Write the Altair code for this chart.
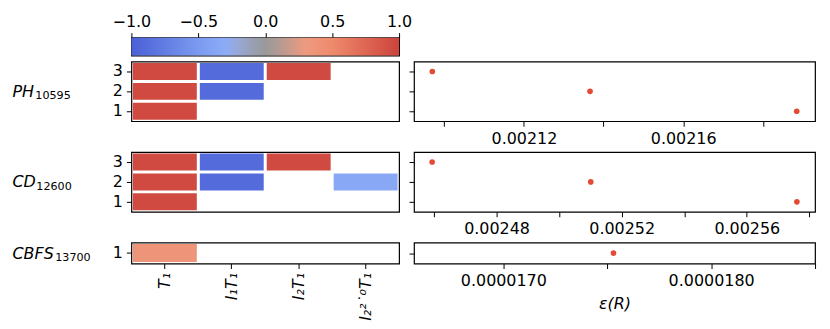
import altair as alt
import pandas as pd

# ---------------- data ----------------
method_names = ["PH", "CD", "CBFS"]
method_subs = ["10595", "12600", "13700"]
terms = ["T₁", "I₁T₁", "I₂T₁", "I₂²˙⁰T₁"]

ph_cell_row = [3, 3, 3, 2, 2, 1]
ph_cell_term = ["T₁", "I₁T₁", "I₂T₁", "T₁", "I₁T₁", "T₁"]
ph_cell_val = [0.95, -0.9, 0.95, 0.95, -0.9, 0.95]

cd_cell_row = [3, 3, 3, 2, 2, 2, 1]
cd_cell_term = ["T₁", "I₁T₁", "I₂T₁", "T₁", "I₁T₁", "I₂²˙⁰T₁", "T₁"]
cd_cell_val = [0.95, -0.9, 0.95, 0.95, -0.9, -0.35, 0.95]

cbfs_cell_row = [1]
cbfs_cell_term = ["T₁"]
cbfs_cell_val = [0.38]

ph_err_row = [3, 2, 1]
ph_err = [0.002097, 0.0021366, 0.0021885]
cd_err_row = [3, 2, 1]
cd_err = [0.0024594, 0.0025101, 0.0025760]
cbfs_err_row = [1]
cbfs_err = [1.753e-5]

ph_ticks = [0.00210, 0.00212, 0.00214, 0.00216, 0.00218]
ph_labeled = ["0.00212", "0.00216"]
cd_ticks = [0.00246, 0.00248, 0.00250, 0.00252, 0.00254, 0.00256, 0.00258]
cd_labeled = ["0.00248", "0.00252", "0.00256"]
cbfs_ticks = [1.70e-5, 1.75e-5, 1.80e-5, 1.85e-5]
cbfs_labeled = ["0.0000170", "0.0000180"]

ph_dom = [0.0020924, 0.0021931]
cd_dom = [0.0024536, 0.0025818]
cbfs_dom = [1.657e-5, 1.850e-5]

cbar_ticks = [-1.0, -0.5, 0.0, 0.5, 1.0]

# colour map (coolwarm-like with grey centre)
cmap_dom = [-1.0, -0.5, -0.3, -0.2, -0.1, 0.0, 0.1, 0.2, 0.3, 0.5, 1.0]
cmap_rng = ["#4a60d6", "#7b9af0", "#8cacf8", "#98a8d6", "#98a0b4", "#999999",
            "#b29a94", "#d09a88", "#ee9a80", "#ef8a6c", "#cc433c"]

# layout / style
FONT = "DejaVu Sans"
FS = 16
HEAT_W = 269
SCAT_W = 403
POINT_COLOR = "#e34a33"
TITLE_X = -120
SUB_X = [-97, -96, -77]

cscale = alt.Scale(domain=cmap_dom, range=cmap_rng, interpolate="rgb")

# ---------------- colour bar ----------------
cb_df = pd.DataFrame({"lo": [cbar_ticks[0]], "hi": [cbar_ticks[-1]]})
grad = alt.LinearGradient(
    gradient="linear",
    stops=[alt.GradientStop(offset=(d + 1) / 2, color=c) for d, c in zip(cmap_dom, cmap_rng)],
    x1=0, x2=1, y1=0, y2=0,
)
cbar = alt.Chart(cb_df).mark_rect(fill=grad).encode(
    x=alt.X("lo:Q", scale=alt.Scale(domain=[-1, 1], nice=False, zero=False),
            axis=alt.Axis(orient="top", values=cbar_ticks, title=None, grid=False, domain=False,
                          tickSize=5, labelPadding=3, labelFlush=False, labelOverlap=False,
                          labelExpr="replace(format(datum.value, '.1f'), '-', '−')")),
    x2="hi:Q",
).properties(width=HEAT_W, height=18)

filler = alt.Chart(pd.DataFrame({"a": [0]})).mark_point(opacity=0).encode(
    x=alt.value(0), y=alt.value(0)
).properties(width=10, height=10, view=alt.ViewBackground(stroke="transparent"))


def heat(rows, terms_, vals, name, sub, sub_x, n_rows, h, show_x):
    df = pd.DataFrame({"row": rows, "term": terms_, "val": vals})
    rdom = list(range(n_rows, 0, -1))
    step = h / n_rows
    pin = 3.0 / step
    yscale = alt.Scale(domain=rdom, paddingInner=pin, paddingOuter=pin / 2)
    xaxis = None
    if show_x:
        xaxis = alt.Axis(title=None, labelAngle=-90, tickSize=5, labelPadding=4, domain=False,
                         labelFontStyle="italic", grid=False)
    base = alt.Chart(df)
    cells = base.mark_rect().encode(
        x=alt.X("term:N", scale=alt.Scale(domain=terms, paddingInner=0.045, paddingOuter=0.0225),
                axis=xaxis),
        y=alt.Y("row:O", scale=yscale,
                axis=alt.Axis(title=name, titleAngle=0, titleAlign="left", titleBaseline="alphabetic",
                              titleX=TITLE_X, titleY=h / 2 + 5, titleFontStyle="italic",
                              titleFontSize=16, tickSize=5, labelPadding=4, domain=False,
                              grid=False)),
        color=alt.Color("val:Q", scale=cscale, legend=None),
    )
    subl = base.mark_rect(opacity=0).encode(
        y=alt.Y("row:O", scale=yscale,
                axis=alt.Axis(orient="left", title=sub, titleAngle=0, titleAlign="left",
                              titleBaseline="alphabetic", titleX=sub_x, titleY=h / 2 + 7.6,
                              titleFontSize=11.2, titleFontStyle="normal", labels=False,
                              ticks=False, domain=False, grid=False)),
    )
    return alt.layer(cells, subl).resolve_axis(y="independent").properties(width=HEAT_W, height=h)


def scatter(rows, errs, n_rows, h, dom, ticks, labeled, fmt, show_title):
    df = pd.DataFrame({"row": rows, "err": errs})
    rdom = list(range(n_rows, 0, -1))
    lab = ",".join("'%s'" % s for s in labeled)
    xa = dict(values=ticks, format=fmt, grid=False, tickSize=5, labelPadding=4, domain=False,
              labelFlush=False, labelOverlap=False,
              labelExpr="indexof([%s], datum.label) >= 0 ? datum.label : ''" % lab)
    if show_title:
        xa.update(title="ε(R)", titleFontStyle="italic", titlePadding=7)
    else:
        xa.update(title=None)
    return alt.Chart(df).mark_circle(size=32, color=POINT_COLOR, opacity=1).encode(
        x=alt.X("err:Q", scale=alt.Scale(domain=dom, nice=False, zero=False), axis=alt.Axis(**xa)),
        y=alt.Y("row:O", scale=alt.Scale(domain=rdom, paddingInner=0, paddingOuter=0),
                axis=alt.Axis(labels=False, title=None, tickSize=5, domain=False, grid=False)),
    ).properties(width=SCAT_W, height=h)


h1 = heat(ph_cell_row, ph_cell_term, ph_cell_val, method_names[0], method_subs[0], SUB_X[0], 3, 60, False)
s1 = scatter(ph_err_row, ph_err, 3, 60, ph_dom, ph_ticks, ph_labeled, ".5f", False)
h2 = heat(cd_cell_row, cd_cell_term, cd_cell_val, method_names[1], method_subs[1], SUB_X[1], 3, 60, False)
s2 = scatter(cd_err_row, cd_err, 3, 60, cd_dom, cd_ticks, cd_labeled, ".5f", False)
h3 = heat(cbfs_cell_row, cbfs_cell_term, cbfs_cell_val, method_names[2], method_subs[2], SUB_X[2], 1, 21, True)
s3 = scatter(cbfs_err_row, cbfs_err, 1, 21, cbfs_dom, cbfs_ticks, cbfs_labeled, ".7f", True)

chart = alt.concat(
    cbar, filler, h1, s1, h2, s2, h3, s3,
    columns=2, spacing={"row": 4, "column": -6}, align="each", bounds="full",
).properties(
    padding={"left": 3, "top": 4, "right": 5, "bottom": 5}
).configure_axis(
    labelFont=FONT, labelFontSize=FS, titleFont=FONT, titleFontSize=FS,
    labelColor="black", titleColor="black", tickColor="black", tickWidth=1,
    titleFontWeight="normal",
).configure_view(
    stroke="black", strokeWidth=1.2
)

chart.save("out.html", embed_options={"renderer": "svg", "actions": False})
